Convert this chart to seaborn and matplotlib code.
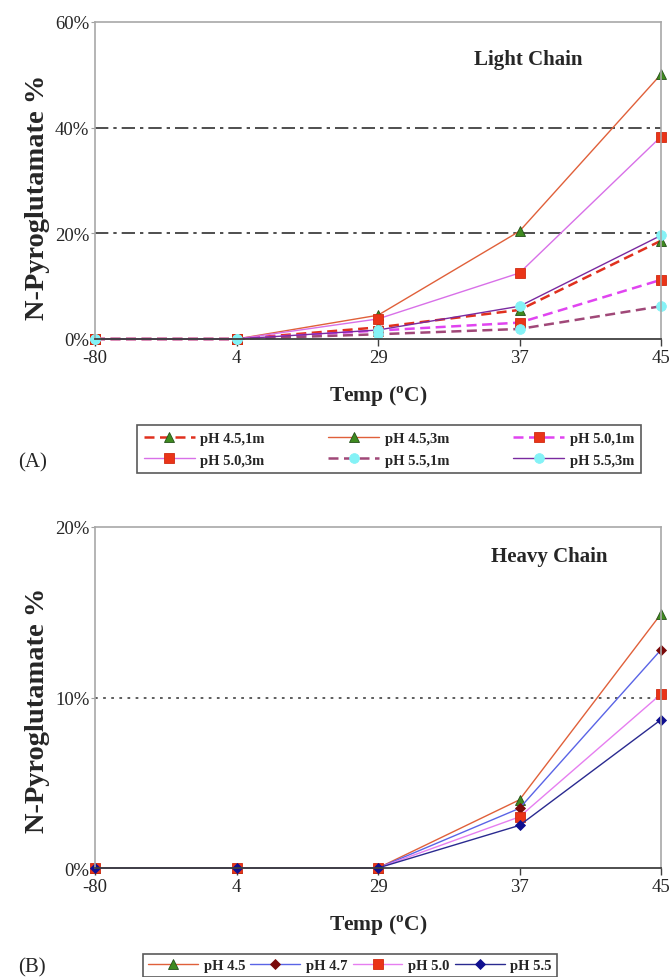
import numpy as np
import pandas as pd
import matplotlib
matplotlib.use("Agg")
import matplotlib.pyplot as plt
from matplotlib.ticker import PercentFormatter
import seaborn as sns

# ---------------- data ----------------
temps = ["-80", "4", "29", "37", "45"]

light_labels = ["pH 4.5,1m", "pH 4.5,3m", "pH 5.0,1m", "pH 5.0,3m", "pH 5.5,1m", "pH 5.5,3m"]
light_45_1m = [0, 0, 2.2, 5.5, 18.6]
light_45_3m = [0, 0, 4.5, 20.4, 50.1]
light_50_1m = [0, 0, 1.6, 3.1, 11.2]
light_50_3m = [0, 0, 3.8, 12.5, 38.3]
light_55_1m = [0, 0, 0.9, 1.9, 6.2]
light_55_3m = [0, 0, 1.7, 6.2, 19.6]
light_values = [light_45_1m, light_45_3m, light_50_1m, light_50_3m, light_55_1m, light_55_3m]

heavy_labels = ["pH 4.5", "pH 4.7", "pH 5.0", "pH 5.5"]
heavy_45 = [0, 0, 0, 4.0, 14.9]
heavy_47 = [0, 0, 0, 3.5, 12.8]
heavy_50 = [0, 0, 0, 3.0, 10.2]
heavy_55 = [0, 0, 0, 2.5, 8.7]
heavy_values = [heavy_45, heavy_47, heavy_50, heavy_55]

# ---------------- styles ----------------
GREEN = "#3f8a1f"
RED = "#ea3418"
CYAN = "#84f2f6"

light_styles = [
    dict(color="#e0301e", ls=(0, (4, 2.2)), lw=1.8, marker="^", mfc=GREEN, mec="#24501a"),
    dict(color="#e0603a", ls="-", lw=1.0, marker="^", mfc=GREEN, mec="#24501a"),
    dict(color="#e044f0", ls=(0, (4, 2.2)), lw=1.8, marker="s", mfc=RED, mec="#d02a10"),
    dict(color="#d870e8", ls="-", lw=1.0, marker="s", mfc=RED, mec="#d02a10"),
    dict(color="#a04878", ls=(0, (4, 2.2)), lw=1.8, marker="o", mfc=CYAN, mec=CYAN),
    dict(color="#7a2aa0", ls="-", lw=1.0, marker="o", mfc=CYAN, mec=CYAN),
]
heavy_styles = [
    dict(color="#e0603a", ls="-", lw=1.0, marker="^", mfc=GREEN, mec="#24501a"),
    dict(color="#5a64e6", ls="-", lw=1.0, marker="D", mfc="#7a0a0a", mec="#7a0a0a"),
    dict(color="#e67ef0", ls="-", lw=1.0, marker="s", mfc=RED, mec="#d02a10"),
    dict(color="#2a2a90", ls="-", lw=1.0, marker="D", mfc="#101090", mec="#101090"),
]

sns.set_theme(style="white")
plt.rcParams["font.family"] = ["Liberation Serif", "DejaVu Serif"]
plt.rcParams["mathtext.fontset"] = "custom"
plt.rcParams["mathtext.rm"] = "Liberation Serif:bold"
plt.rcParams["mathtext.bf"] = "Liberation Serif:bold"

fig = plt.figure(figsize=(6.72, 9.78), dpi=100)

axA = fig.add_axes([95 / 672, 1 - 340 / 978, 566 / 672, 317 / 978])
axB = fig.add_axes([95 / 672, 1 - 869 / 978, 566 / 672, 341 / 978])

xpos = np.arange(len(temps))


def draw(ax, labels, values, styles):
    handles = []
    for lab, vals, st in zip(labels, values, styles):
        df = pd.DataFrame({"x": xpos, "y": vals})
        ms = 5.5 if st["marker"] == "D" else 7.0
        sns.lineplot(data=df, x="x", y="y", ax=ax, color=st["color"],
                     linestyle=st["ls"], linewidth=st["lw"], marker=st["marker"],
                     markersize=ms, markerfacecolor=st["mfc"],
                     markeredgecolor=st["mec"], markeredgewidth=0.6,
                     clip_on=False, legend=False, errorbar=None)
        line = ax.get_lines()[-1]
        line.set_label(lab)
        handles.append(line)
    return handles


hA = draw(axA, light_labels, light_values, light_styles)
hB = draw(axB, heavy_labels, heavy_values, heavy_styles)


def style_axes(ax, ymax, ystep, grid_ls, grid_color, grid_lw):
    ax.set_xlim(0, len(temps) - 1)
    ax.set_ylim(0, ymax)
    ax.set_xticks(xpos)
    ax.set_xticklabels(temps)
    ax.set_yticks(np.arange(0, ymax + 0.01, ystep))
    ax.yaxis.set_major_formatter(PercentFormatter(xmax=100, decimals=0))
    ax.tick_params(axis="x", direction="out", length=5, width=1, color="#404040",
                   labelsize=13.5, pad=2, bottom=True)
    ax.tick_params(axis="y", direction="out", length=3, width=0.8, color="#a0a0a0",
                   labelsize=13.5, pad=1, left=True)
    for s in ["left", "top", "right"]:
        ax.spines[s].set_color("#a8a8a8")
        ax.spines[s].set_linewidth(1.2)
    ax.spines["bottom"].set_color("#404040")
    ax.spines["bottom"].set_linewidth(1.3)
    ax.grid(axis="y", linestyle=grid_ls, color=grid_color, linewidth=grid_lw)
    ax.grid(axis="x", visible=False)
    gl = ax.get_ygridlines()
    gl[0].set_visible(False)
    gl[-1].set_visible(False)
    ax.set_axisbelow(True)
    ax.set_xlabel(r"Temp ($^{\mathbf{o}}$C)", fontsize=15.5, fontweight="bold", labelpad=13)
    ax.set_ylabel("N-Pyroglutamate %", fontsize=20.5, fontweight="bold")


style_axes(axA, 60, 20, (0, (8, 3, 2, 3)), "#303030", 1.2)
style_axes(axB, 20, 10, (0, (1.5, 3)), "#505050", 1.3)
axA.yaxis.set_label_coords(-0.08, 0.45)
axB.yaxis.set_label_coords(-0.08, 0.466)

axA.text(0.765, 0.883, "Light Chain", transform=axA.transAxes, ha="center", va="center",
         fontsize=15, fontweight="bold")
axB.text(0.802, 0.915, "Heavy Chain", transform=axB.transAxes, ha="center", va="center",
         fontsize=15, fontweight="bold")

order = [0, 3, 1, 4, 2, 5]
legA = fig.legend([hA[i] for i in order], [light_labels[i] for i in order],
                  loc="center", ncol=3, mode="expand",
                  bbox_to_anchor=(137 / 672, 1 - 476 / 978, 504 / 672, 52 / 978),
                  prop={"weight": "bold", "size": 10.5}, frameon=True, fancybox=False,
                  edgecolor="#303030", handlelength=3.5, handletextpad=0.4,
                  borderpad=0.45, labelspacing=0.6, columnspacing=1.0, borderaxespad=0)
legA.get_frame().set_linewidth(1.2)

legB = fig.legend(hB, heavy_labels, loc="upper center", ncol=4, mode="expand",
                  bbox_to_anchor=(143 / 672, 0, 414 / 672, 1 - 955 / 978),
                  prop={"weight": "bold", "size": 10.5}, frameon=True, fancybox=False,
                  edgecolor="#303030", handlelength=3.4, handletextpad=0.4,
                  borderpad=0.35, columnspacing=1.0, borderaxespad=0)
legB.get_frame().set_linewidth(1.2)

fig.text(18 / 672, 1 - 463 / 978, "(A)", fontsize=15, ha="left", va="center")
fig.text(18 / 672, 1 - 968 / 978, "(B)", fontsize=15, ha="left", va="center")

fig.savefig("out.png", dpi=100)
